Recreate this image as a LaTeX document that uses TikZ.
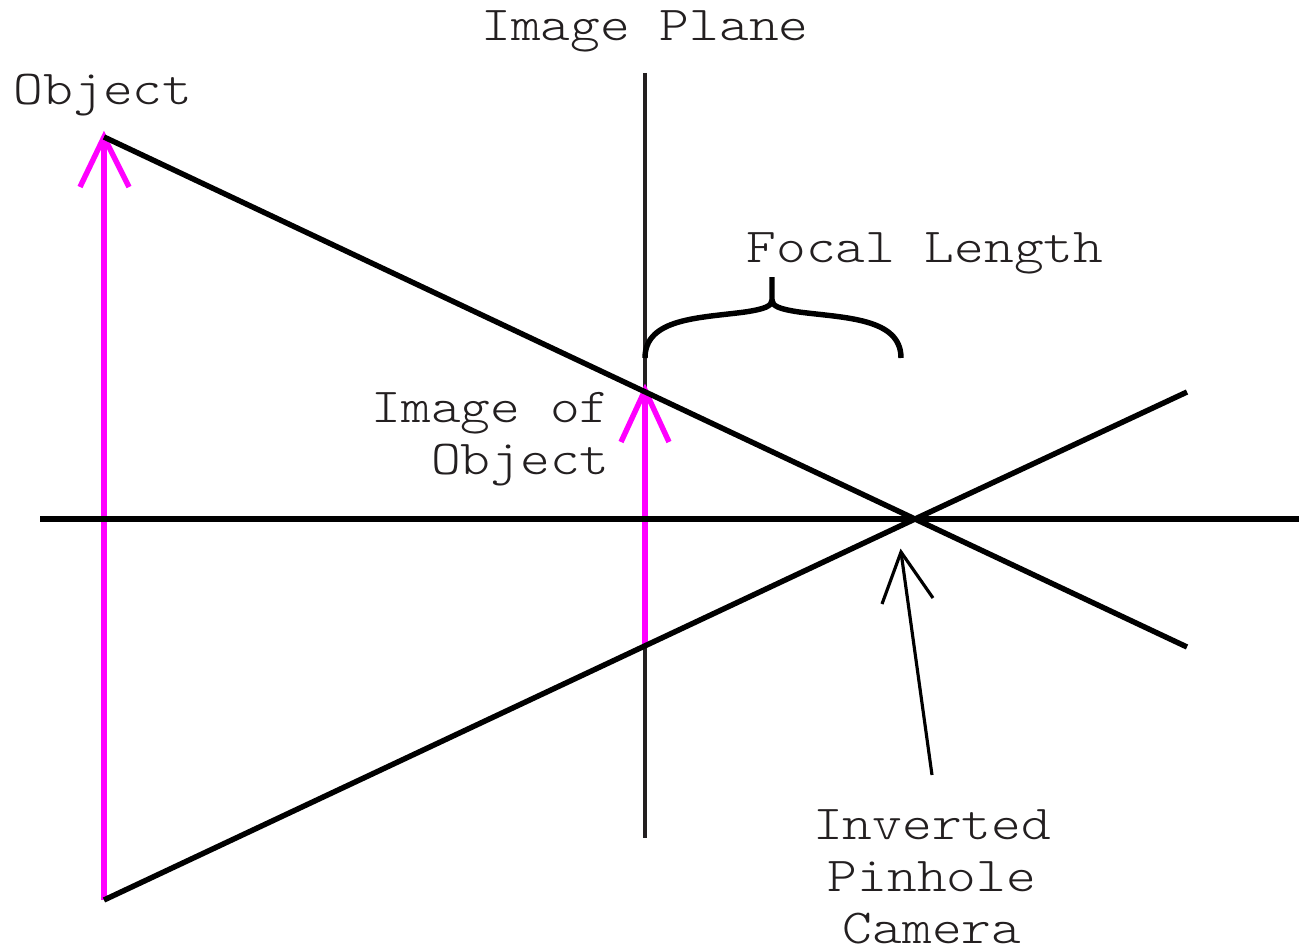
\documentclass[tikz,border=0pt]{standalone}
\usepackage{fontspec}
\newfontfamily\courlike[FakeStretch=1.16]{Latin Modern Mono Light}
\definecolor{txt}{HTML}{231F20}
\definecolor{mag}{HTML}{FF00FF}
\tikzset{
  lbl/.style={font=\courlike\fontsize{27.8}{29.5}\selectfont, text=txt, inner sep=0pt, align=center},
  ray/.style={line width=3.1pt, black},
  magline/.style={line width=3.1pt, mag},
  planeline/.style={line width=2.6pt, txt},
  thinarrow/.style={line width=1.8pt, black},
}
\begin{document}
\begin{tikzpicture}[x=0.02cm,y=-0.02cm]
\useasboundingbox (0,0) rectangle (1299,946);
% coordinates
\coordinate (axL) at (40,519);
\coordinate (axR) at (1299,519);
\coordinate (pin) at (915,519);
\coordinate (planeT) at (645,73);
\coordinate (planeB) at (645,838);
\coordinate (objT) at (104,137);
\coordinate (objB) at (104,900);
\coordinate (objHL) at (80,187);
\coordinate (objHR) at (129,187);
\coordinate (imgT) at (645,390);
\coordinate (imgB) at (645,645);
\coordinate (imgHL) at (621,442);
\coordinate (imgHR) at (669,442);
\coordinate (rayUpEnd) at (1187,647);
\coordinate (rayLoEnd) at (1187,392);
\coordinate (pinTail) at (932,775);
\coordinate (pinTip) at (901,552);
\coordinate (pinHL) at (882,604);
\coordinate (pinHR) at (933,598);
\coordinate (brL) at (645,358);
\coordinate (brR) at (901,358);
\coordinate (brM) at (772,300);
\coordinate (brTip) at (772,277);
% image plane
\draw[planeline] (planeT) -- (planeB);
% magenta arrows
\draw[magline] (objB) -- (objT);
\draw[magline] (objHL) -- (objT) -- (objHR);
\draw[magline] (imgB) -- (imgT);
\draw[magline] (imgHL) -- (imgT) -- (imgHR);
% axis and rays
\draw[ray] (axL) -- (axR);
\draw[ray] (objT) -- (pin) -- (rayUpEnd);
\draw[ray] (objB) -- (pin) -- (rayLoEnd);
% brace
\draw[ray] (brL) .. controls (645,318) and (700,318) .. (745,312)
  .. controls (765,309) and (772,306) .. (brM) -- (brTip);
\draw[ray] (brM) .. controls (772,306) and (779,309) .. (799,312)
  .. controls (845,318) and (901,318) .. (brR);
% pinhole arrow
\draw[thinarrow] (pinTail) -- (pinTip);
\draw[thinarrow] (pinHL) -- (pinTip) -- (pinHR);
% labels
\node[lbl] (lplane) at (645,31) {Image Plane};
\node[lbl] (lobj) at (103,95) {Object};
\node[lbl] (lfocal) at (925,253) {Focal Length};
\node[lbl, align=right, anchor=east] (limg) at (610,439) {Image of\\Object};
\node[lbl] (lpin) at (932,877) {Inverted\\Pinhole\\Camera};
\end{tikzpicture}
\end{document}
